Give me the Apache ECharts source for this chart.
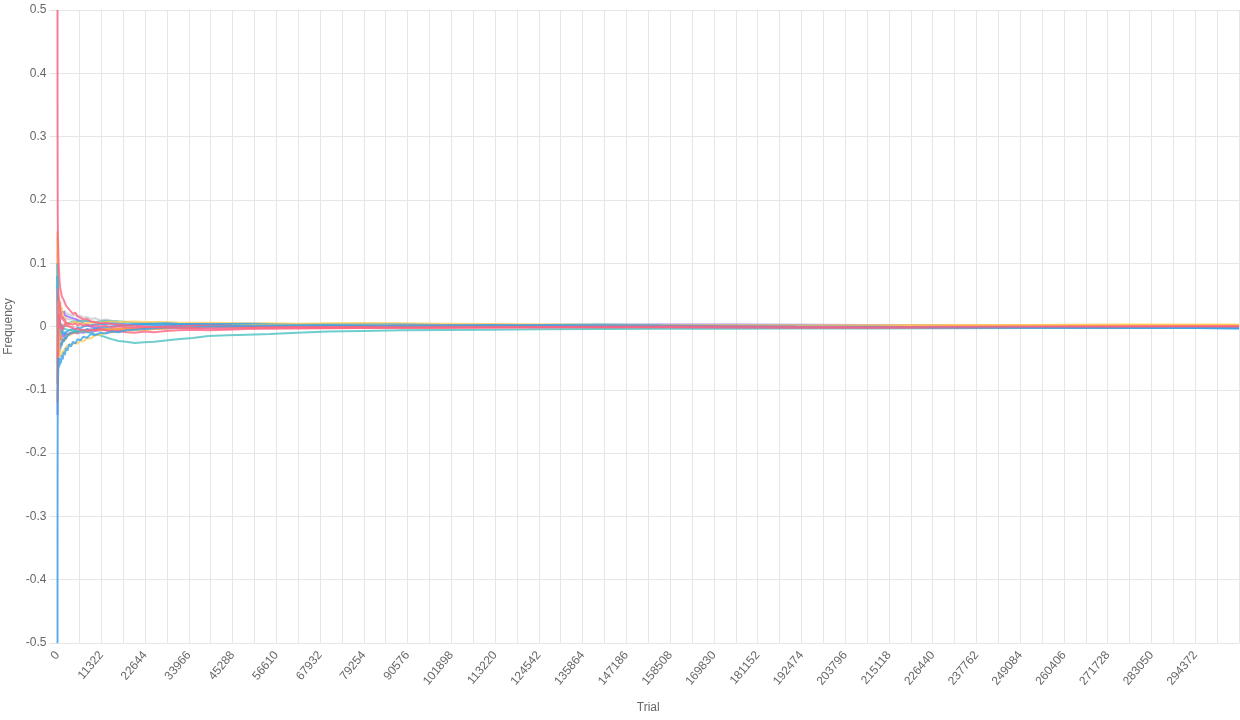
<html>
<head>
<meta http-equiv="Content-Type" content="text/html; charset=utf-8">
<script type="text/javascript" src="https://cdn.jsdelivr.net/npm/echarts@6/dist/echarts.min.js"></script>
<style>
html, body { margin: 0; padding: 0; background: #fff; }
#main { width: 1240px; height: 720px; }
</style>
</head>
<body>
<div id="main"></div>
<script type="text/javascript">
// trial numbers where each run was sampled
var trials = [0, 20, 60, 120, 200, 300, 420, 560, 720, 900,
	1100, 1350, 1600, 1900, 2200, 2600, 3000, 3500, 4000, 4600,
	5200, 5900, 6700, 7600, 8600, 9700, 11000, 12500, 14000, 15800,
	17800, 20000, 22500, 25000, 28000, 31000, 35000, 39000, 44000, 49000,
	55000, 62000, 70000, 79000, 89000, 100000, 112000, 125000, 140000, 156000,
	173000, 191000, 210000, 230000, 251000, 273000, 295000, 305694];

// frequency deviation of each run
var run1 = [-0.5, -0.25, -0.12, -0.08, -0.05, -0.065, -0.055, -0.062, -0.05, -0.058,
	-0.045, -0.052, -0.04, -0.045, -0.034, -0.038, -0.028, -0.032, -0.024, -0.027,
	-0.02, -0.022, -0.016, -0.018, -0.012, -0.014, -0.01, -0.011, -0.008, -0.009,
	-0.006, -0.005, -0.004, -0.003, -0.002, -0.0015, -0.001, 0.0, 0.0005, 0.001,
	0.0015, 0.002, 0.0025, 0.002, 0.0015, 0.002, 0.0025, 0.002, 0.0015, 0.001,
	0.0005, 0.0, -0.0005, -0.001, -0.0015, -0.002, -0.0025, -0.0028];
var run2 = [0.5, 0.3, 0.18, 0.14, 0.12, 0.1, 0.085, 0.07, 0.06, 0.055,
	0.048, 0.05, 0.042, 0.04, 0.033, 0.035, 0.027, 0.025, 0.02, 0.022,
	0.016, 0.014, 0.011, 0.012, 0.008, 0.007, 0.005, 0.006, 0.004, 0.003,
	0.002, 0.001, 0.0, -0.001, -0.0015, -0.002, -0.0025, -0.003, -0.003, -0.0025,
	-0.002, -0.0015, -0.001, -0.0015, -0.002, -0.002, -0.0015, -0.001, -0.0005, 0.0,
	0.0, -0.0005, -0.001, -0.0005, 0.0, 0.0, 0.0005, 0.0005];
var run3 = [0.15, 0.12, 0.06, 0.0, -0.03, -0.045, -0.035, -0.04, -0.028, -0.032,
	-0.022, -0.026, -0.018, -0.022, -0.014, -0.017, -0.011, -0.013, -0.009, -0.01,
	-0.007, -0.008, -0.006, -0.007, -0.005, -0.006, -0.004, -0.005, -0.0045, -0.004,
	-0.003, -0.0035, -0.002, -0.002, -0.001, 0.0, 0.0005, 0.001, 0.0, -0.001,
	-0.0015, -0.002, -0.0025, -0.002, -0.0015, -0.001, -0.0005, -0.001, -0.0015, -0.001,
	-0.0005, 0.0, 0.0005, 0.001, 0.0012, 0.0015, 0.0015, 0.0015];
var run4 = [-0.12, -0.09, -0.05, 0.04, 0.02, -0.01, -0.03, -0.04, -0.048, -0.042,
	-0.046, -0.038, -0.042, -0.035, -0.038, -0.03, -0.033, -0.028, -0.03, -0.026,
	-0.027, -0.022, -0.024, -0.018, -0.019, -0.014, -0.013, -0.01, -0.009, -0.008,
	-0.007, -0.006, -0.005, -0.004, -0.003, -0.002, -0.001, 0.0, 0.001, 0.002,
	0.003, 0.004, 0.0035, 0.003, 0.002, 0.0025, 0.003, 0.002, 0.0015, 0.0015,
	0.002, 0.0015, 0.002, 0.0025, 0.0025, 0.003, 0.003, 0.003];
var run5 = [0.1, 0.06, -0.05, -0.1, -0.06, -0.03, -0.015, -0.005, 0.005, 0.0,
	0.004, -0.002, 0.001, -0.004, -0.002, -0.005, -0.003, -0.006, -0.005, -0.007,
	-0.006, -0.008, -0.007, -0.009, -0.01, -0.012, -0.014, -0.017, -0.02, -0.023,
	-0.024, -0.026, -0.025, -0.024, -0.022, -0.02, -0.018, -0.015, -0.014, -0.013,
	-0.012, -0.01, -0.008, -0.007, -0.006, -0.0055, -0.005, -0.0045, -0.004, -0.0035,
	-0.0035, -0.003, -0.003, -0.0028, -0.0025, -0.0025, -0.0022, -0.0022];
var run6 = [-0.14, -0.1, -0.08, -0.03, 0.0, 0.02, 0.035, 0.028, 0.032, 0.024,
	0.027, 0.02, 0.024, 0.018, 0.021, 0.016, 0.018, 0.014, 0.015, 0.012,
	0.01, 0.008, 0.005, 0.003, 0.0, -0.002, -0.004, -0.006, -0.007, -0.006,
	-0.005, -0.004, -0.003, -0.002, -0.001, 0.0, 0.001, 0.0005, 0.0, -0.0005,
	0.0, 0.001, 0.0015, 0.001, 0.0005, 0.001, 0.0015, 0.002, 0.0025, 0.003,
	0.003, 0.0028, 0.0025, 0.0022, 0.002, 0.0015, 0.0012, 0.001];
var run7 = [0.12, 0.1, 0.08, 0.05, 0.03, 0.015, 0.01, 0.018, 0.014, 0.022,
	0.018, 0.024, 0.02, 0.025, 0.021, 0.023, 0.019, 0.021, 0.017, 0.019,
	0.016, 0.017, 0.014, 0.015, 0.012, 0.013, 0.01, 0.011, 0.009, 0.008,
	0.007, 0.006, 0.005, 0.0045, 0.004, 0.0035, 0.003, 0.0025, 0.002, 0.0018,
	0.0015, 0.0012, 0.001, 0.0008, 0.0005, 0.0003, 0.0, 0.0005, 0.001, 0.001,
	0.0005, 0.0, 0.0, 0.0005, 0.001, 0.0008, 0.0005, 0.0005];
var run8 = [0.08, 0.06, -0.04, -0.06, -0.035, -0.01, 0.005, 0.012, 0.004, 0.0,
	-0.006, -0.012, -0.008, -0.014, -0.009, -0.012, -0.006, -0.008, -0.004, -0.005,
	-0.002, -0.003, 0.0, 0.001, 0.002, 0.003, 0.0035, 0.004, 0.005, 0.0045,
	0.004, 0.0035, 0.003, 0.0025, 0.002, 0.0025, 0.003, 0.0035, 0.004, 0.0042,
	0.004, 0.0035, 0.003, 0.0028, 0.0025, 0.002, 0.0022, 0.0025, 0.003, 0.0025,
	0.002, 0.001, 0.0, -0.001, -0.0015, -0.002, -0.0025, -0.003];
var run9 = [-0.1, -0.12, -0.1, -0.05, -0.02, 0.005, 0.02, 0.012, 0.004, -0.004,
	0.002, -0.006, 0.0, 0.006, 0.002, 0.005, 0.0, 0.003, -0.002, -0.004,
	-0.003, -0.006, -0.005, -0.007, -0.005, -0.006, -0.004, -0.006, -0.008, -0.007,
	-0.009, -0.01, -0.008, -0.009, -0.007, -0.006, -0.005, -0.006, -0.005, -0.004,
	-0.0035, -0.003, -0.0028, -0.0025, -0.002, -0.002, -0.0015, -0.0012, -0.001, -0.0012,
	-0.0015, -0.002, -0.002, -0.0015, -0.001, -0.001, -0.0008, -0.0005];
var run10 = [-0.08, -0.06, 0.01, 0.04, 0.05, 0.035, 0.02, 0.005, -0.008, -0.015,
	-0.022, -0.018, -0.024, -0.019, -0.021, -0.015, -0.017, -0.012, -0.013, -0.009,
	-0.01, -0.007, -0.008, -0.005, -0.006, -0.005, -0.006, -0.004, -0.005, -0.004,
	-0.003, -0.004, -0.005, -0.004, -0.003, -0.002, -0.001, 0.0, 0.0005, 0.001,
	0.0, -0.0005, -0.001, -0.0005, 0.0, 0.0005, 0.0, -0.0005, -0.001, -0.0005,
	0.0, 0.0005, 0.0005, 0.0, 0.0, 0.0005, 0.0008, 0.0008];
var run11 = [0.14, 0.13, 0.12, 0.08, 0.05, 0.035, 0.045, 0.03, 0.038, 0.026,
	0.03, 0.02, 0.015, 0.008, 0.004, 0.0, 0.003, 0.006, 0.004, 0.007,
	0.005, 0.006, 0.004, 0.005, 0.006, 0.007, 0.006, 0.007, 0.008, 0.007,
	0.0075, 0.008, 0.007, 0.0072, 0.007, 0.0065, 0.006, 0.0058, 0.0055, 0.005,
	0.005, 0.0045, 0.005, 0.0055, 0.005, 0.0045, 0.004, 0.0035, 0.003, 0.0025,
	0.002, 0.0015, 0.0012, 0.0015, 0.002, 0.002, 0.0025, 0.0025];
var run12 = [-0.09, -0.08, -0.06, -0.02, 0.01, 0.025, 0.012, -0.005, -0.015, -0.008,
	-0.012, -0.004, 0.0, 0.003, 0.001, 0.005, 0.004, 0.007, 0.006, 0.008,
	0.007, 0.009, 0.008, 0.009, 0.008, 0.007, 0.008, 0.009, 0.0085, 0.008,
	0.007, 0.006, 0.0055, 0.005, 0.0045, 0.004, 0.0035, 0.003, 0.0035, 0.004,
	0.0035, 0.003, 0.002, 0.0025, 0.003, 0.0025, 0.002, 0.0015, 0.001, 0.0005,
	0.0, -0.0005, -0.0008, -0.001, -0.001, -0.0012, -0.0015, -0.0015];
var run13 = [0.1, 0.09, 0.04, -0.02, -0.045, -0.035, -0.025, -0.018, -0.022, -0.014,
	-0.018, -0.012, -0.016, -0.011, -0.014, -0.012, -0.013, -0.011, -0.012, -0.01,
	-0.011, -0.009, -0.01, -0.008, -0.009, -0.007, -0.006, -0.005, -0.004, -0.005,
	-0.004, -0.003, -0.004, -0.0035, -0.003, -0.0025, -0.002, -0.0015, -0.001, -0.0005,
	0.0, 0.0005, 0.001, 0.0012, 0.001, 0.0005, 0.0, -0.0005, -0.001, -0.0012,
	-0.0015, -0.002, -0.0018, -0.0015, -0.0012, -0.001, -0.0008, -0.0005];
var run14 = [-0.06, 0.0, 0.06, 0.035, 0.01, -0.01, 0.0, 0.008, 0.012, 0.016,
	0.011, 0.015, 0.012, 0.016, 0.013, 0.012, 0.014, 0.011, 0.012, 0.01,
	0.011, 0.009, 0.01, 0.008, 0.007, 0.006, 0.005, 0.004, 0.003, 0.002,
	0.001, 0.0015, 0.002, 0.0018, 0.0015, 0.001, 0.0005, 0.0, 0.0005, 0.001,
	0.0015, 0.001, 0.0005, 0.0, -0.0005, 0.0, 0.0005, 0.0008, 0.001, 0.0005,
	0.0, -0.0005, 0.0, 0.0005, 0.0005, 0.0, 0.0003, 0.0003];
var run15 = [-0.085, -0.09, -0.06, 0.02, 0.06, 0.045, 0.03, 0.04, 0.025, 0.018,
	0.012, 0.016, 0.008, 0.012, 0.006, 0.009, 0.004, 0.006, 0.003, 0.005,
	0.002, 0.004, 0.001, 0.003, 0.001, 0.002, 0.0, 0.001, -0.001, 0.0,
	-0.001, -0.002, -0.0015, -0.001, 0.0, 0.0005, 0.001, 0.0015, 0.001, 0.0005,
	0.0, -0.0005, 0.0, 0.0005, 0.001, 0.0015, 0.0012, 0.001, 0.0005, 0.0,
	-0.0005, -0.001, -0.0012, -0.001, -0.0008, -0.0005, -0.0005, -0.0005];
var run16 = [0.06, 0.08, 0.02, -0.01, -0.03, -0.02, -0.04, -0.03, -0.036, -0.025,
	-0.03, -0.02, -0.024, -0.016, -0.02, -0.014, -0.016, -0.01, -0.012, -0.008,
	-0.009, -0.006, -0.007, -0.004, -0.005, -0.003, -0.002, -0.001, 0.0, 0.001,
	0.002, 0.003, 0.004, 0.0045, 0.005, 0.0045, 0.004, 0.0035, 0.003, 0.0025,
	0.002, 0.0025, 0.003, 0.0032, 0.003, 0.0025, 0.002, 0.0018, 0.0015, 0.001,
	0.0005, 0.0, -0.0005, -0.001, -0.0012, -0.0015, -0.0018, -0.002];

// drawn back to front
var runs   = [run14, run7, run13, run6, run12, run11, run10, run3, run16, run8, run5, run4, run15, run9, run1, run2];
var colors = ['#c9cbcf', '#c9cbcf', '#9966ff', '#9966ff', '#4bc0c0', '#ffcd56', '#ff9f40', '#ff9f40',
              '#36a2eb', '#36a2eb', '#4bc0c0', '#ffcd56', '#ff6384', '#ff6384', '#36a2eb', '#ff6384'];

var tickStep = 5661;     // one grid line per step
var labelStep = 11322;   // a label every other grid line
var lastLabel = 294372;
var trialMax = 305694;

var series = [];
for (var i = 0; i < runs.length; i++) {
	var pts = [];
	for (var j = 0; j < trials.length; j++) {
		pts.push([trials[j], runs[i][j]]);
	}
	series.push({
		name: 'run' + (i + 1),
		type: 'line',
		showSymbol: false,
		data: pts,
		lineStyle: { color: colors[i], width: 2, opacity: 0.8 },
		itemStyle: { color: colors[i] }
	});
}

var font = '"Liberation Sans", Helvetica, Arial, sans-serif';
var option = {
	animation: false,
	grid: { left: 57.5, right: 1, top: 10, bottom: 77, containLabel: false, outerBoundsMode: 'none' },
	xAxis: {
		type: 'value',
		min: 0,
		max: trialMax,
		interval: tickStep,
		name: 'Trial',
		nameLocation: 'middle',
		nameGap: 59,
		nameTextStyle: { color: '#666', fontSize: 12, fontFamily: font },
		axisLine: { show: true, lineStyle: { color: '#d0d0d0', width: 1 } },
		axisTick: { show: true, length: 8, lineStyle: { color: '#e3e3e3' } },
		splitLine: { show: true, lineStyle: { color: '#e6e6e6', width: 1 } },
		axisLabel: {
			color: '#666', fontSize: 12, fontFamily: font, rotate: 50, margin: 10,
			showMaxLabel: false,
			formatter: function (v) { return (v % labelStep === 0 && v <= lastLabel) ? String(v) : ''; }
		}
	},
	yAxis: {
		type: 'value',
		min: -0.5,
		max: 0.5,
		interval: 0.1,
		name: 'Frequency',
		nameLocation: 'middle',
		nameGap: 43,
		nameRotate: 90,
		nameTextStyle: { color: '#666', fontSize: 12, fontFamily: font },
		axisLine: { show: true, lineStyle: { color: '#d0d0d0', width: 1 } },
		axisTick: { show: true, length: 8, lineStyle: { color: '#e3e3e3' } },
		splitLine: { show: true, lineStyle: { color: '#e6e6e6', width: 1 } },
		axisLabel: {
			color: '#666', fontSize: 12, fontFamily: font, margin: 11,
			formatter: function (v) { return String(Math.round(v * 10) / 10); }
		}
	},
	series: series
};

var myChart = echarts.init(document.getElementById('main'));
myChart.setOption(option);
</script>
</body>
</html>
